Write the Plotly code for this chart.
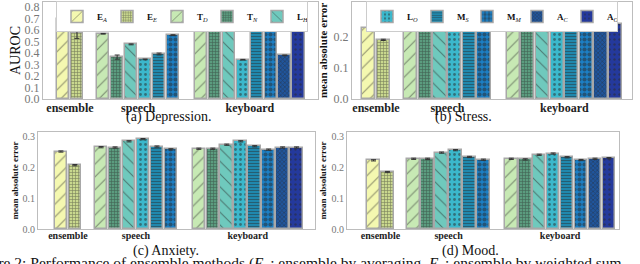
import plotly.graph_objects as go

# ---------------- data ----------------
methods = ["E_A", "E_E", "T_D", "T_N", "L_H", "L_O", "M_S", "M_M", "A_C", "A_O"]
labels = {
    "E_A": "<b>E</b><sub><i>A</i></sub>", "E_E": "<b>E</b><sub><i>E</i></sub>",
    "T_D": "<b>T</b><sub><i>D</i></sub>", "T_N": "<b>T</b><sub><i>N</i></sub>",
    "L_H": "<b>L</b><sub><i>H</i></sub>", "L_O": "<b>L</b><sub><i>O</i></sub>",
    "M_S": "<b>M</b><sub><i>S</i></sub>", "M_M": "<b>M</b><sub><i>M</i></sub>",
    "A_C": "<b>A</b><sub><i>C</i></sub>", "A_O": "<b>A</b><sub><i>O</i></sub>",
}
groups = ["ensemble", "speech", "keyboard"]
ensemble_methods = ["E_A", "E_E"]
speech_methods = ["T_D", "T_N", "L_H", "L_O", "M_S", "M_M"]
keyboard_methods = ["T_D", "T_N", "L_H", "L_O", "M_S", "M_M", "A_C", "A_O"]

# values: ensemble, speech, keyboard
dep_ens = [0.695, 0.578]
dep_ens_err = [0.003, 0.05]
dep_sp = [0.568, 0.365, 0.476, 0.345, 0.392, 0.556]
dep_sp_err = [0.003, 0.018, 0.004, 0.003, 0.008, 0.004]
dep_kb = [0.605, 0.72, 0.663, 0.342, 0.597, 0.663, 0.38, 0.666]
dep_kb_err = [0.003, 0.006, 0.003, 0.003, 0.004, 0.004, 0.003, 0.008]

str_ens = [0.228, 0.189]
str_sp = [0.241, 0.241, 0.257, 0.264, 0.243, 0.238]
str_kb = [0.230, 0.235, 0.245, 0.254, 0.240, 0.232, 0.237, 0.240]

anx_ens = [0.250, 0.206]
anx_sp = [0.264, 0.263, 0.283, 0.290, 0.266, 0.257]
anx_kb = [0.259, 0.259, 0.272, 0.283, 0.267, 0.256, 0.263, 0.263]

mood_ens = [0.223, 0.185]
mood_sp = [0.228, 0.228, 0.248, 0.256, 0.234, 0.225]
mood_kb = [0.228, 0.226, 0.241, 0.245, 0.233, 0.224, 0.228, 0.230]

small_err = 0.002

# ---------------- styles ----------------
colors = {
    "E_A": "#f4f8b0", "E_E": "#c9d88e", "T_D": "#c7e9b4", "T_N": "#5b9c7f",
    "L_H": "#6fc9bd", "L_O": "#3bb8cc", "M_S": "#2088ad", "M_M": "#1c7fc4",
    "A_C": "#20559c", "A_O": "#24399c",
}
patterns = {
    "E_A": dict(shape="/", size=9, solidity=0.12),
    "E_E": dict(shape="+", size=3, solidity=0.35),
    "T_D": dict(shape="/", size=9, solidity=0.12),
    "T_N": dict(shape="+", size=3, solidity=0.35),
    "L_H": dict(shape="\\", size=9, solidity=0.12),
    "L_O": dict(shape=".", size=5, solidity=0.25),
    "M_S": dict(shape="-", size=3, solidity=0.3),
    "M_M": dict(shape=".", size=5, solidity=0.55),
    "A_C": dict(shape="x", size=3, solidity=0.4),
    "A_O": dict(shape=".", size=5, solidity=0.2),
}

ens_pos = [0, 1]
sp_pos = [2.88 + i for i in range(6)]
kb_pos = [9.88 + i for i in range(8)]
tick_pos = [0.5, 5.38, 13.38]

SERIF = "Liberation Serif"

fig = go.Figure()

panels = [
    ("x", "y", (dep_ens, dep_sp, dep_kb), (dep_ens_err, dep_sp_err, dep_kb_err)),
    ("x2", "y2", (str_ens, str_sp, str_kb), None),
    ("x3", "y3", (anx_ens, anx_sp, anx_kb), None),
    ("x4", "y4", (mood_ens, mood_sp, mood_kb), None),
]

legend_a = ["E_A", "E_E", "T_D", "T_N", "L_H"]
legend_b = ["L_O", "M_S", "M_M", "A_C", "A_O"]
shown = set()

for pi, (xa, ya, vals, errs) in enumerate(panels):
    for gi, (meths, pos) in enumerate(
        [(ensemble_methods, ens_pos), (speech_methods, sp_pos), (keyboard_methods, kb_pos)]
    ):
        for mi, m in enumerate(meths):
            v = vals[gi][mi]
            e = errs[gi][mi] if errs else small_err
            showleg = m not in shown
            shown.add(m)
            fig.add_trace(go.Bar(
                x=[pos[mi]], y=[v], width=0.9,
                xaxis=xa, yaxis=ya,
                name=labels[m], legendgroup=m, showlegend=showleg,
                legend="legend" if m in legend_a else "legend2",
                marker=dict(
                    color=colors[m],
                    line=dict(color="#a8a8a8", width=1.5),
                    pattern=dict(fillmode="overlay", fgcolor="#2a2a2a", **patterns[m]),
                ),
                error_y=dict(type="data", array=[e], color="#333", thickness=1, width=2.5),
            ))

axis_common = dict(showgrid=False, zeroline=False, showline=True, linecolor="#bdbdbd",
                   linewidth=1.2, mirror=True, automargin=False)

def xaxis(domain, rng, fs, anchor, so):
    return dict(domain=domain, range=rng, tickvals=tick_pos, anchor=anchor,
                ticktext=["<b>" + g + "</b>" for g in groups],
                tickfont=dict(family=SERIF, size=fs, color="#222"), ticks="", ticklen=0,
                ticklabelstandoff=so, **axis_common)

def yaxis(domain, rng, title, tfs, tfont, anchor, standoff):
    return dict(domain=domain, range=rng, dtick=0.1, tickformat=".1f", anchor=anchor,
                tickfont=dict(family=SERIF, size=tfs, color="#777"), ticks="",
                title=dict(text=title, font=dict(family=SERIF, size=tfont, color="#111"),
                           standoff=standoff),
                **axis_common)

legend_common = dict(orientation="h", yanchor="top", xanchor="center",
                     bgcolor="white", bordercolor="#cccccc", borderwidth=1,
                     font=dict(family=SERIF, size=9, color="#111"), itemwidth=30,
                     entrywidth=5, entrywidthmode="pixels",
                     traceorder="normal", tracegroupgap=0)

fig.update_layout(
    width=640, height=264, margin=dict(l=0, r=0, t=0, b=0, autoexpand=False),
    paper_bgcolor="white", plot_bgcolor="white", barmode="overlay", bargap=0,
    xaxis=xaxis([43/640, 318/640], [-1.43, 18.26], 12, "y", -3),
    yaxis=yaxis([1 - 99/264, 1 - 2/264], [0, 0.845], "AUROC", 12, 14, "x", 0),
    xaxis2=xaxis([352/640, 632/640], [-1.14, 18.0], 12, "y2", -3),
    yaxis2=yaxis([1 - 99/264, 1 - 2/264], [0, 0.31], "<b>mean absolute error</b>", 12, 11, "x2", 3),
    xaxis3=xaxis([38/640, 315/640], [-1.64, 18.2], 10, "y3", -3),
    yaxis3=yaxis([1 - 229/264, 1 - 132/264], [0, 0.313], "<b>mean absolute error</b>", 10, 9, "x3", 2),
    xaxis4=xaxis([347/640, 619/640], [-1.9, 17.6], 10, "y4", -3),
    yaxis4=yaxis([1 - 229/264, 1 - 132/264], [0, 0.315], "<b>mean absolute error</b>", 10, 9, "x4", 3),
    legend=dict(x=182/640, y=1 - 1/264, **legend_common),
    legend2=dict(x=492/640, y=1 - 1/264, **legend_common),
    showlegend=True,
)

captions = [("(a) Depression.", 169, 117), ("(b) Stress.", 463, 117),
            ("(c) Anxiety.", 166, 251), ("(d) Mood.", 470, 251)]
for txt, cx, cy in captions:
    fig.add_annotation(text=txt, x=cx/640, y=1 - cy/264, xref="paper", yref="paper",
                       showarrow=False, xanchor="center", yanchor="middle",
                       font=dict(family=SERIF, size=14, color="#111"))

fig.add_annotation(
    text="Figure 2: Performance of ensemble methods (<i>E<sub>A</sub></i>: ensemble by averaging, "
         "<i>E<sub>E</sub></i>: ensemble by weighted sum",
    x=-32/640, y=1 - 263/264, xref="paper", yref="paper", showarrow=False,
    xanchor="left", yanchor="middle", font=dict(family=SERIF, size=15.5, color="#111"))

fig.write_html("out.html", post_script="document.body.style.margin='0';",
               config={"displayModeBar": False})
